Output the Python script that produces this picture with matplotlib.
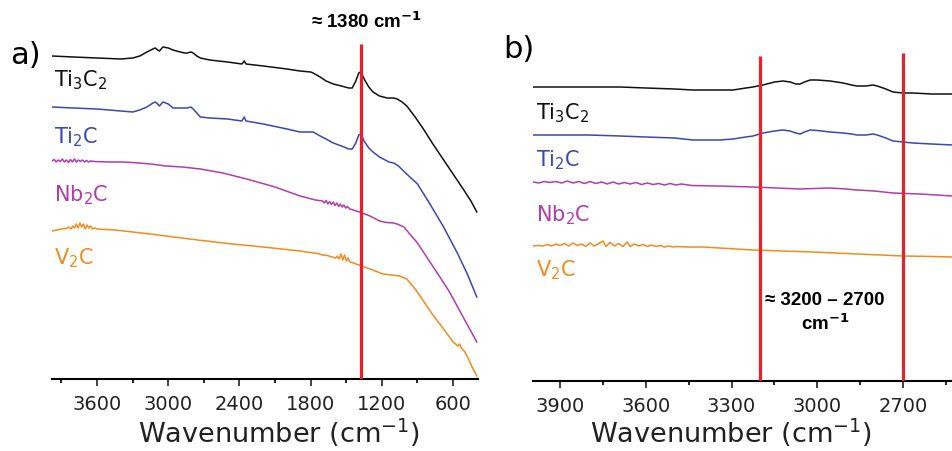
import numpy as np
import matplotlib.pyplot as plt

plt.rcParams['font.family'] = ['DejaVu Sans']
plt.rcParams['mathtext.default'] = 'regular'

# ---- panel a: full range FTIR (wavenumber, offset intensity a.u.)
a_ti3c2_x = [3980, 3800, 3600, 3400, 3300, 3240, 3180, 3130, 3110, 3090, 3075, 3060, 3045, 3000,
             2960, 2900, 2860, 2840, 2810, 2790, 2760, 2730, 2650, 2500, 2380, 2360, 2345, 2200,
             2000, 1890, 1800, 1780, 1750, 1720, 1670, 1610, 1540, 1480, 1450, 1420, 1395, 1380,
             1365, 1345, 1310, 1275, 1220, 1155, 1100, 1070, 1030, 990, 920, 850, 770, 685, 600,
             515, 450, 400]
a_ti3c2_y = [323, 322, 321, 320, 321, 323, 327, 330, 331, 329, 328, 330, 332, 331,
             329, 327, 326, 326, 327, 326, 323, 321, 319, 317, 315, 318, 315, 313,
             310, 308, 307, 306, 304, 302, 298, 295, 293, 291, 291, 298, 306, 307,
             304, 299, 292, 287, 283, 281, 281, 280, 277, 273, 262, 250, 235, 220, 205,
             190, 178, 167]

a_ti2c_x = [3980, 3800, 3600, 3400, 3300, 3240, 3180, 3130, 3110, 3090, 3075, 3060, 3045, 3000,
            2960, 2900, 2860, 2840, 2810, 2790, 2760, 2730, 2650, 2500, 2380, 2360, 2345, 2200,
            2000, 1890, 1800, 1780, 1750, 1720, 1670, 1610, 1540, 1480, 1450, 1420, 1395, 1380,
            1365, 1345, 1310, 1275, 1220, 1140, 1100, 1060, 1000, 900, 800, 680, 560, 480, 400]
a_ti2c_y = [272, 271, 270, 268, 267, 269, 272, 276, 277, 275, 273, 275, 277, 275,
            271, 271, 271, 271, 272, 270, 266, 262, 261, 260, 258, 262, 258, 255,
            250, 247, 247, 247, 245, 243, 240, 236, 233, 230, 230, 236, 244, 245,
            242, 237, 231, 227, 222, 217, 216, 213, 206, 195, 176, 152, 125, 105, 82]

a_nb2c_x = [3980, 3962, 3945, 3928, 3910, 3893, 3876, 3859, 3842, 3825, 3808, 3791, 3774, 3757,
            3740, 3723, 3706, 3689, 3672, 3655, 3620, 3500, 3400, 3300, 3150, 3020, 2880, 2730,
            2540, 2340, 2100, 1890, 1760, 1700, 1685, 1670, 1655, 1640, 1625, 1610, 1595, 1580,
            1565, 1550, 1535, 1520, 1505, 1490, 1470, 1390, 1300, 1220, 1160, 1100, 1060, 1015,
            900, 795, 700, 630, 520, 400]
a_nb2c_y = [218, 219.5, 217, 219, 217.5, 220, 217, 219, 216.5, 219.5, 217, 220, 217, 219,
            217.5, 219, 217, 218.5, 217, 218, 217.5, 217, 217, 216.5, 215, 213, 212, 210,
            206, 200, 192, 183, 179, 178, 176, 178.5, 175, 177.5, 174.5, 177, 173.5, 176,
            172.5, 175, 172, 174, 171, 172.5, 170, 167, 163, 158, 156.5, 156, 154.5, 152,
            136, 117, 100, 87, 63, 37]

a_v2c_x = [3980, 3900, 3860, 3840, 3820, 3805, 3790, 3775, 3760, 3745, 3730, 3715, 3700, 3685,
           3670, 3655, 3640, 3620, 3600, 3450, 3300, 3150, 3020, 2750, 2460, 2200, 1890, 1780,
           1740, 1700, 1660, 1620, 1590, 1575, 1560, 1545, 1530, 1515, 1500, 1485, 1470, 1440,
           1370, 1300, 1190, 1120, 1050, 990, 920, 850, 770, 680, 600, 560, 545, 530, 500, 470,
           440, 400]
a_v2c_y = [148, 150, 150.5, 152, 150, 153, 151, 155, 151, 156, 152, 155, 150, 154,
           151, 153, 150, 151, 150, 149, 147, 145, 143, 139, 135, 132, 128, 126,
           125.5, 124, 123.5, 122, 121, 123, 120, 125, 119, 124, 118, 121, 117, 116,
           113, 110, 105, 104, 103, 100, 90, 78, 64, 50, 37, 33, 35, 31, 27, 20,
           12, 3]

# ---- panel b: C-H stretching region
b_ti3c2_x = [3994, 3800, 3690, 3600, 3500, 3435, 3340, 3295, 3250, 3225, 3190, 3150, 3120, 3095,
             3075, 3060, 3045, 3025, 3000, 2955, 2910, 2880, 2861, 2830, 2805, 2790, 2760, 2735,
             2700, 2665, 2600, 2525]
b_ti3c2_y = [294, 294, 294, 293, 292, 291, 291, 291, 293, 294, 296, 299, 300, 299,
             297, 297, 299, 301, 301, 300, 298, 296, 295, 295, 296, 295, 292, 289,
             288, 288, 287, 287]

b_ti2c_x = [3994, 3800, 3690, 3600, 3500, 3435, 3340, 3295, 3250, 3225, 3190, 3150, 3120, 3095,
            3075, 3060, 3045, 3025, 3000, 2955, 2910, 2880, 2861, 2830, 2805, 2790, 2760, 2735,
            2700, 2665, 2600, 2525]
b_ti2c_y = [246, 246, 245, 244, 243, 241, 241, 242, 244, 245, 248, 250, 251, 250,
            248, 247, 249, 251, 250.5, 249, 248, 247, 246, 246, 247, 246, 243, 240,
            239, 238, 237, 236]

b_nb2c_x = [3994, 3975, 3955, 3935, 3915, 3895, 3875, 3855, 3835, 3815, 3795, 3775, 3755, 3735,
            3715, 3695, 3675, 3655, 3635, 3615, 3595, 3575, 3555, 3535, 3515, 3495, 3475, 3440,
            3350, 3225, 3140, 3060, 3010, 2955, 2900, 2861, 2800, 2735, 2640, 2525]
b_nb2c_y = [199, 198, 199.5, 198.5, 199.5, 198, 200, 198, 199.5, 197.5, 199.5, 197.5, 199, 197,
            199, 197, 198.5, 197, 198.5, 196.5, 198, 196.5, 197.5, 196, 197.5, 196, 197, 195.5,
            195, 194, 193, 192, 192.5, 193, 192, 191, 190, 188, 187, 185]

b_v2c_x = [3994, 3975, 3960, 3945, 3930, 3915, 3900, 3885, 3870, 3855, 3840, 3825, 3810, 3795,
           3780, 3765, 3750, 3740, 3725, 3710, 3695, 3680, 3665, 3655, 3640, 3625, 3610, 3595,
           3580, 3565, 3550, 3535, 3520, 3505, 3490, 3455, 3400, 3225, 3120, 3015, 2860, 2700,
           2600, 2525]
b_v2c_y = [135, 135.5, 135, 136.5, 135, 137, 135.5, 137.5, 135, 138, 135.5, 137, 134.5, 138,
           135, 137.5, 140, 134.5, 138.5, 135, 137.5, 134.5, 139, 134.5, 137, 135, 136.5, 134.5,
           136, 134.5, 135.5, 134, 135, 134, 134.5, 134, 134, 131, 130, 129, 127, 125,
           124.5, 124]

names = [r'Ti$_3$C$_2$', r'Ti$_2$C', r'Nb$_2$C', r'V$_2$C']
colors = ['#111111', '#3b47b2', '#b23cab', '#f08c1e']
a_label_y = [300, 243, 185, 122]
b_label_y = [269, 222, 167, 112]

peak_a = 1380
band_b = [3200, 2700]

fig = plt.figure(figsize=(9.53, 4.52), dpi=100)
ax_a = fig.add_axes([52 / 953, 72 / 452, 426 / 953, 380 / 452])
ax_b = fig.add_axes([533 / 953, 70 / 452, 420 / 953, 382 / 452])

series_a = [(a_ti3c2_x, a_ti3c2_y), (a_ti2c_x, a_ti2c_y), (a_nb2c_x, a_nb2c_y), (a_v2c_x, a_v2c_y)]
series_b = [(b_ti3c2_x, b_ti3c2_y), (b_ti2c_x, b_ti2c_y), (b_nb2c_x, b_nb2c_y), (b_v2c_x, b_v2c_y)]

for (x, y), c in zip(series_a, colors):
    ax_a.plot(x, y, color=c, lw=1.1)
for (x, y), c in zip(series_b, colors):
    ax_b.plot(x, y, color=c, lw=1.1)

for name, c, ly in zip(names, colors, a_label_y):
    ax_a.text(3965, ly, name, color=c, fontsize=15, va='center', ha='left')
for name, c, ly in zip(names, colors, b_label_y):
    ax_b.text(3985, ly, name, color=c, fontsize=15, va='center', ha='left')

ax_a.vlines(peak_a, 0, 335, color='#e8202a', lw=2.3, zorder=5)
ax_b.vlines(band_b[0], 0, 325, color='#e8202a', lw=2.3, zorder=5)
ax_b.vlines(band_b[1], 0, 328, color='#e8202a', lw=2.3, zorder=5)

ax_a.set_xlim(3980, 390)
ax_a.set_ylim(0, 380)
ax_b.set_xlim(3995, 2525)
ax_b.set_ylim(0, 382)

ax_a.set_xticks([3600, 3000, 2400, 1800, 1200, 600])
ax_a.set_xticks([3900, 3300, 2700, 2100, 1500, 900], minor=True)
ax_b.set_xticks([3900, 3600, 3300, 3000, 2700])
ax_b.set_xticks([3750, 3450, 3150, 2850, 2550], minor=True)

for ax in (ax_a, ax_b):
    for s in ('left', 'right', 'top'):
        ax.spines[s].set_visible(False)
    ax.spines['bottom'].set_linewidth(1.5)
    ax.set_yticks([])
    ax.tick_params(axis='x', which='major', direction='out', length=5, width=1.2,
                   labelsize=14, pad=6, colors='#222222')
    ax.tick_params(axis='x', which='minor', direction='out', length=3, width=1.2)
    ax.set_xlabel(r'Wavenumber (cm$^{-1}$)', fontsize=19.5, color='#222222')
    ax.patch.set_visible(False)

ax_a.xaxis.set_label_coords((279 - 52) / 426, -37 / 380)
ax_b.xaxis.set_label_coords((731 - 533) / 420, -35 / 382)

fig.text(10 / 953, 1 - 55 / 452, 'a)', fontsize=22, va='center', ha='left')
fig.text(503 / 953, 1 - 50 / 452, 'b)', fontsize=22, va='center', ha='left')

fig.text(366 / 953, 1 - 22 / 452, r'≈ 1380 cm$^{\mathbf{-1}}$', fontsize=13.5,
         fontweight='bold', ha='center', va='center', family=['Liberation Sans', 'DejaVu Sans'])
fig.text(825 / 953, 1 - 313 / 452, '≈ 3200 – 2700\n' + r'cm$^{\mathbf{-1}}$', fontsize=13.5,
         fontweight='bold', ha='center', va='center', linespacing=1.3,
         family=['Liberation Sans', 'DejaVu Sans'])

fig.savefig('out.png', dpi=100)
